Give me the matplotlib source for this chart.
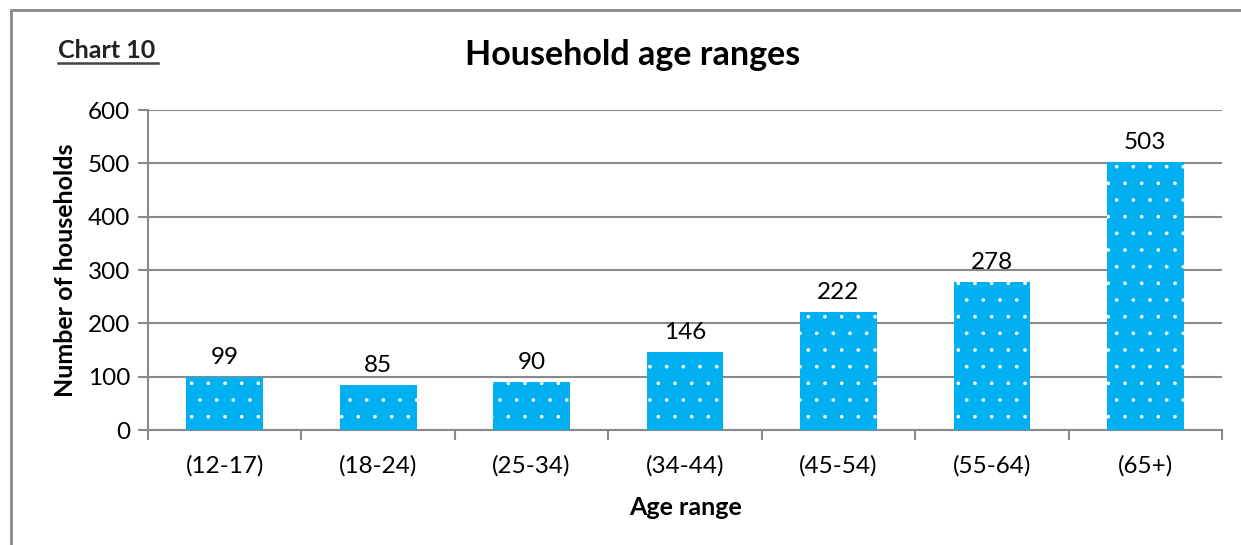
import matplotlib
matplotlib.use("Agg")
import matplotlib.pyplot as plt
from matplotlib.lines import Line2D
from matplotlib.patches import Rectangle

categories = ["(12-17)", "(18-24)", "(25-34)", "(34-44)", "(45-54)", "(55-64)", "(65+)"]
households = [99, 85, 90, 146, 222, 278, 503]
yticks = [0, 100, 200, 300, 400, 500, 600]

plt.rcParams["font.family"] = ["Lato", "DejaVu Sans"]
plt.rcParams["hatch.linewidth"] = 0.2
plt.rcParams["hatch.color"] = "white"

fig = plt.figure(figsize=(12.41, 5.45), dpi=100)
ax = fig.add_axes([0.1193, 0.211, 0.8654, 0.587])

grey = "#898989"
fs = 17.5
xs = range(len(categories))
bars = ax.bar(xs, households, width=0.5, color="#00b0f0", edgecolor="white",
              linewidth=0, hatch=".", zorder=3)
for x, v in zip(xs, households):
    ax.text(x, v + 17, str(v), ha="center", va="bottom", fontsize=fs)

ax.set_xlim(-0.5, len(categories) - 0.5)
ax.set_ylim(0, 600)
ax.set_yticks(yticks)
ax.yaxis.grid(True, color=grey, lw=1.5, zorder=0)
ax.set_xticks(xs)
ax.set_xticklabels(categories, fontsize=fs)
ax.tick_params(axis="x", length=0, pad=18)
ax.tick_params(axis="y", labelsize=fs, color=grey, width=1.5, length=7, pad=6)
# category boundary ticks
ax.set_xticks([i - 0.5 for i in range(len(categories) + 1)], minor=True)
ax.tick_params(axis="x", which="minor", length=7, width=1.5, color=grey)

for s in ["top", "right"]:
    ax.spines[s].set_visible(False)
for s in ["left", "bottom"]:
    ax.spines[s].set_color(grey)
    ax.spines[s].set_linewidth(1.5)

ax.set_xlabel("Age range", fontsize=18, fontweight="bold", labelpad=14)
ax.set_ylabel("Number of households", fontsize=18, fontweight="bold", labelpad=8)

fig.text(0.510, 0.899, "Household age ranges", ha="center", va="center",
         fontsize=24.5, fontweight="bold")
fig.text(0.0465, 0.908, "Chart 10", ha="left", va="center",
         fontsize=18, fontweight="bold", color="#222222")
fig.add_artist(Line2D([0.0465, 0.127], [0.884, 0.884], color="#444444", lw=1.8))

# outer chart border (cropped on right/bottom)
fig.add_artist(Rectangle((0.0085, -0.05), 1.1, 1.032, transform=fig.transFigure,
                         fill=False, edgecolor=grey, lw=2))

fig.savefig("out.png", dpi=100)
